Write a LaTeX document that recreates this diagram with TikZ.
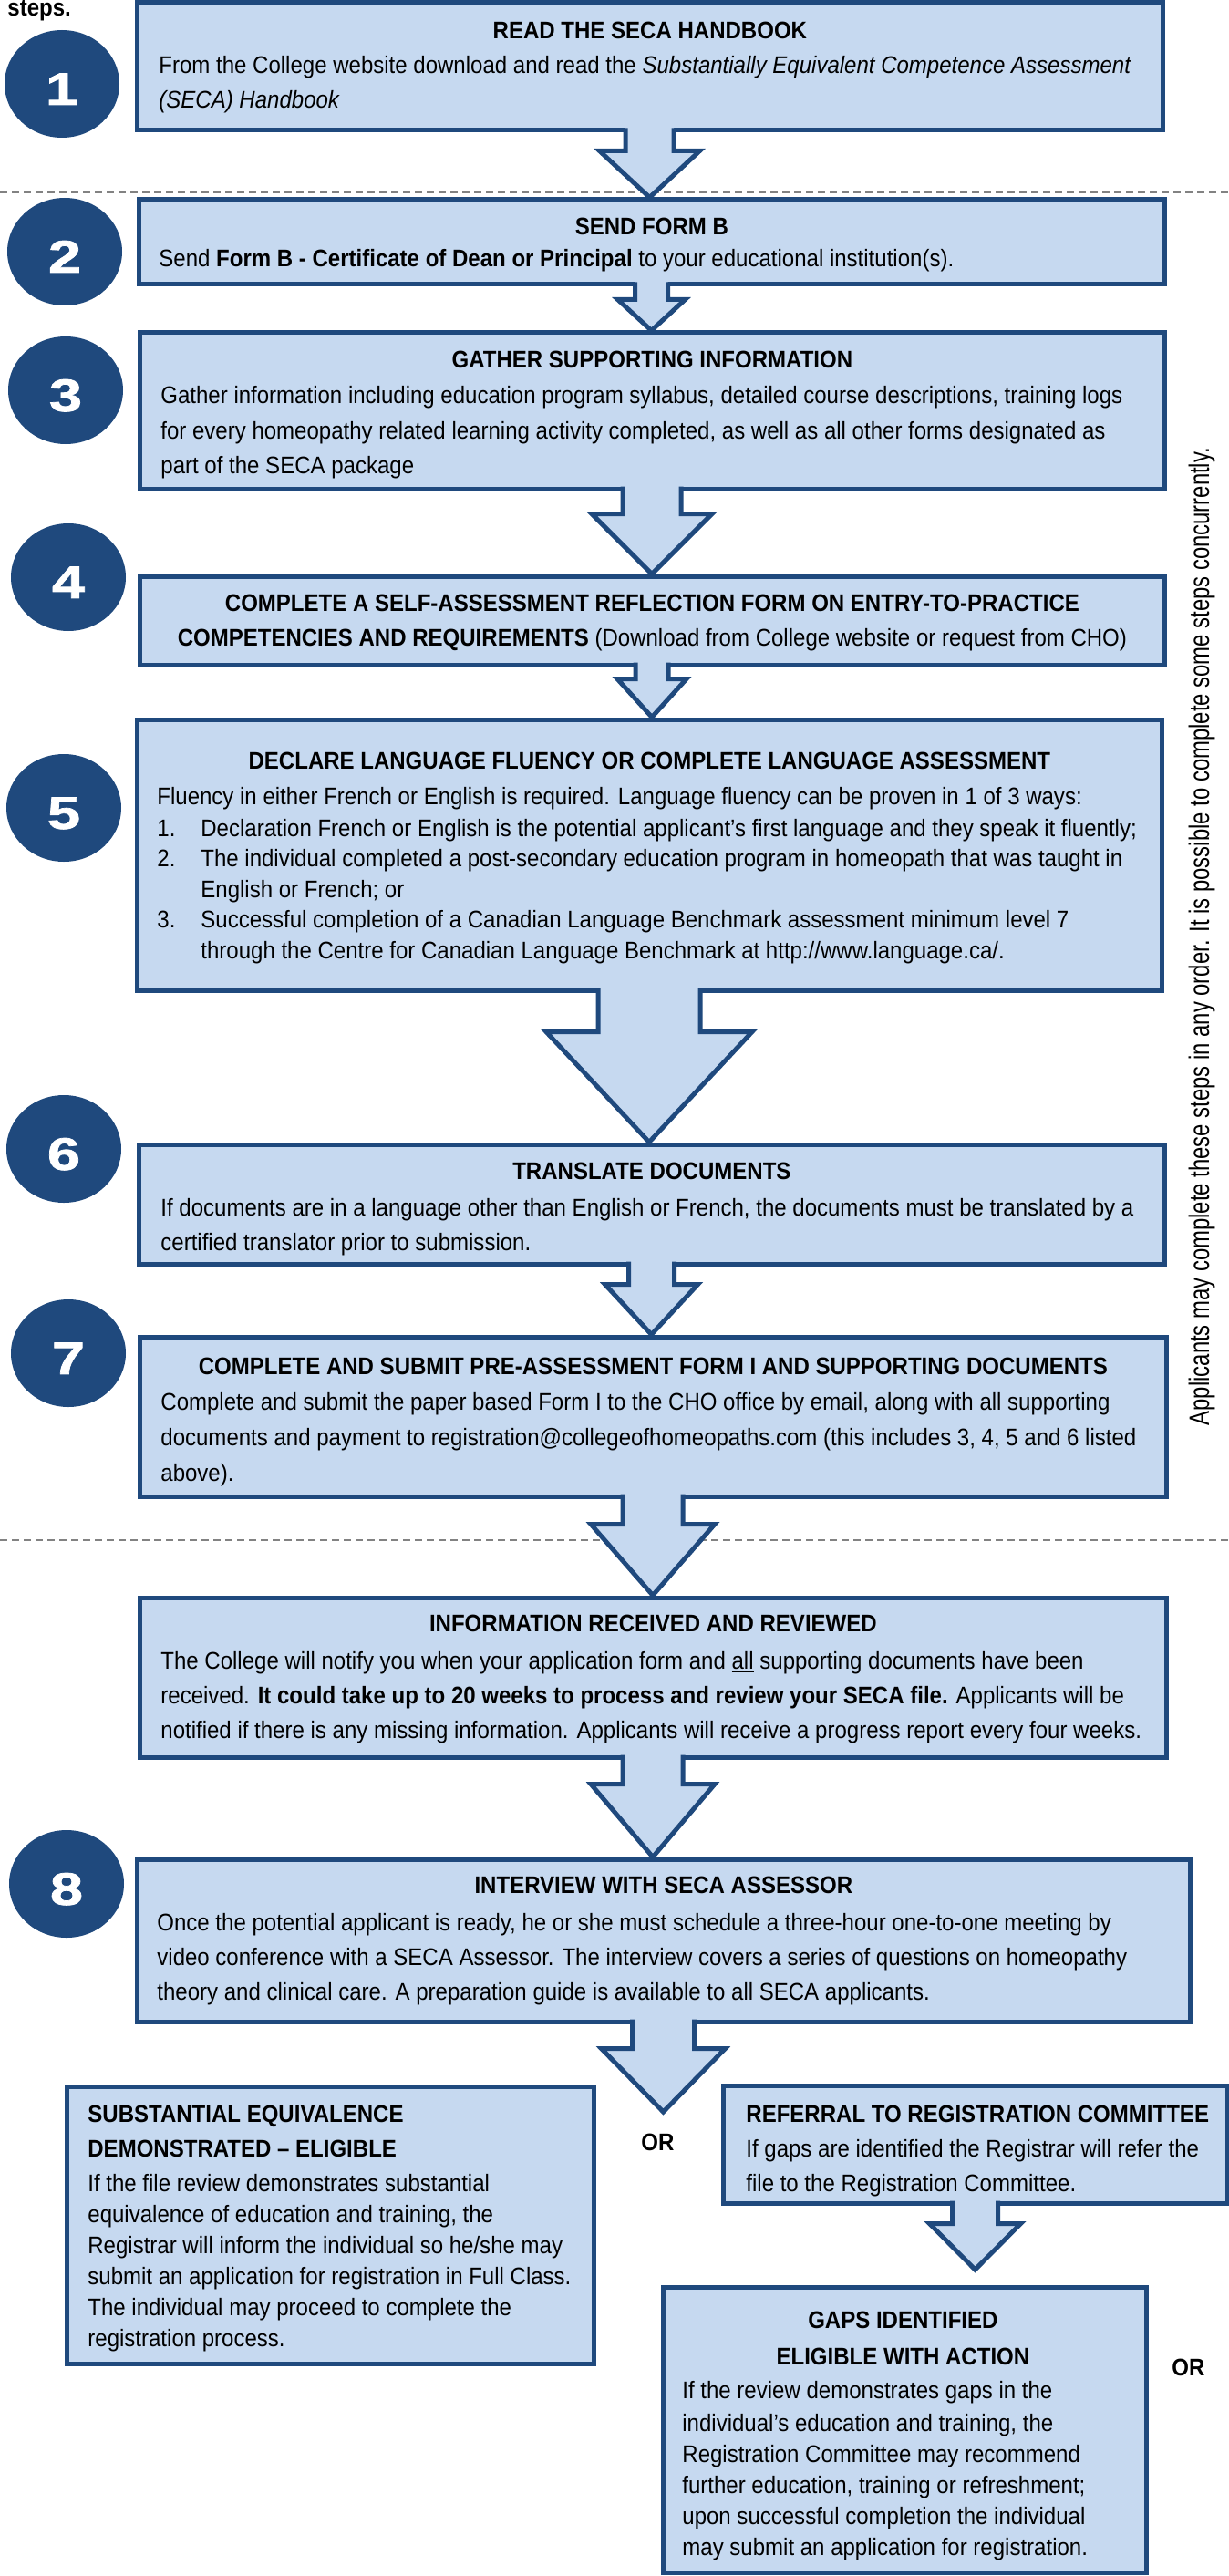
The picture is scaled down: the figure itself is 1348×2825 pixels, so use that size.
\documentclass[tikz,border=0pt]{standalone}
\usepackage{fontspec}
\setmainfont{Liberation Sans}[FakeStretch=0.91]
\newfontfamily\numfont{Liberation Sans}[FakeStretch=1.3,BoldFeatures={FakeBold=1.5}]
\newfontfamily\vfont{Liberation Sans}[FakeStretch=0.77]
\usetikzlibrary{calc,fit,shapes.geometric}
\definecolor{boxc}{RGB}{198,217,240}
\definecolor{navy}{RGB}{31,73,125}
\definecolor{sepgray}{RGB}{130,130,130}
\tikzset{
  box/.style={draw=navy, fill=boxc, line width=2.5pt, inner sep=0pt, rectangle},
  num/.style={ellipse, fill=navy, minimum width=63pt, minimum height=59pt, inner sep=0pt,
    text=white, font=\numfont\bfseries\fontsize{25pt}{25pt}\selectfont},
  txt/.style={inner sep=0pt, anchor=base west, font=\fontsize{13.2pt}{19pt}\selectfont},
  ortxt/.style={inner sep=0pt, anchor=base west, font=\bfseries\fontsize{13.2pt}{19pt}\selectfont},
  arrowline/.style={draw=navy, line width=2.5pt, line join=miter},
  sepline/.style={draw=sepgray, line width=1pt, dash pattern=on 4pt off 2.5pt},
}
\newcommand\dig[1]{\raisebox{-2.5pt}[17.9pt][0pt]{#1}}
% #1 from node, #2 tip point, #3 stem half width, #4 head half width, #5 stem length
\newcommand\blockarrow[5]{%
  \fill[boxc] ($(#1.south)+(-#3,-7)$) -- ($(#1.south)+(-#3,#5)$) -- ($(#1.south)+(-#4,#5)$)
    -- (#1.south |- #2) -- ($(#1.south)+(#4,#5)$) -- ($(#1.south)+(#3,#5)$) -- ($(#1.south)+(#3,-7)$) -- cycle;
  \draw[arrowline] ($(#1.south)+(-#3,-5)$) -- ($(#1.south)+(-#3,#5)$) -- ($(#1.south)+(-#4,#5)$)
    -- (#1.south |- #2) -- ($(#1.south)+(#4,#5)$) -- ($(#1.south)+(#3,#5)$) -- ($(#1.south)+(#3,-5)$);
}
\begin{document}
\begin{tikzpicture}[x=0.5pt,y=-0.5pt]
\useasboundingbox (0,0) rectangle (1348,2825);

% separators
\draw[sepline] (0,211) -- (1348,211);
\draw[sepline] (0,1689) -- (1348,1689);

\node[ortxt] (st) at (8,18) {steps.};

% boxes
\node[box, fit={(150,3) (1275,143)}] (b1) {};
\node[box, fit={(152,219) (1277,312)}] (b2) {};
\node[box, fit={(153,365) (1277,536)}] (b3) {};
\node[box, fit={(153,632) (1277,729)}] (b4) {};
\node[box, fit={(150,789) (1274,1086)}] (b5) {};
\node[box, fit={(152,1255) (1277,1386)}] (b6) {};
\node[box, fit={(153,1466) (1279,1641)}] (b7) {};
\node[box, fit={(153,1752) (1279,1927)}] (bir) {};
\node[box, fit={(150,2039) (1305,2217)}] (b8) {};
\node[box, fit={(73,2288) (651,2592)}] (bse) {};
\node[box, fit={(793,2287) (1346,2416)}] (bref) {};
\node[box, fit={(727,2508) (1257,2821)}] (bgap) {};

% circles
\node[num] (n1) at (68,92) {\dig{1}};
\node[num] (n2) at (71,276) {\dig{2}};
\node[num] (n3) at (72,428) {\dig{3}};
\node[num] (n4) at (75,633) {\dig{4}};
\node[num] (n5) at (70,886) {\dig{5}};
\node[num] (n6) at (70,1260) {\dig{6}};
\node[num] (n7) at (75,1484) {\dig{7}};
\node[num] (n8) at (73,2066) {\dig{8}};

% texts
\node[txt] (t1) at (174,43) {\parbox[t]{538.5pt}{{\centering\bfseries READ THE SECA HANDBOOK\par}\raggedright
\mbox{From the College website download and read the \textit{Substantially Equivalent Competence Assessment}}\\
\mbox{\textit{(SECA) Handbook}}}};

\node[txt] (t2) at (174,258) {\parbox[t]{540.5pt}{\fontsize{13.2pt}{17.5pt}\selectfont{\centering\bfseries SEND FORM B\par}\raggedright
\mbox{Send \textbf{Form B - Certificate of Dean or Principal} to your educational institution(s).}}};

\node[txt] (t3) at (176,403) {\parbox[t]{539pt}{{\centering\bfseries GATHER SUPPORTING INFORMATION\par}\vspace{1pt}\raggedright
\mbox{Gather information including education program syllabus, detailed course descriptions, training logs}\\
\mbox{for every homeopathy related learning activity completed, as well as all other forms designated as}\\
\mbox{part of the SECA package}}};

\node[txt] (t4) at (176,670) {\parbox[t]{539pt}{\centering
\mbox{\bfseries COMPLETE A SELF-ASSESSMENT REFLECTION FORM ON ENTRY-TO-PRACTICE}\\
\mbox{\textbf{COMPETENCIES AND REQUIREMENTS} (Download from College website or request from CHO)}}};

\node[txt] (t5) at (172,843) {\parbox[t]{540pt}{{\centering\bfseries DECLARE LANGUAGE FLUENCY OR COMPLETE LANGUAGE ASSESSMENT\par}\vspace{2.75pt}\fontsize{13.2pt}{16.75pt}\selectfont\raggedright
\mbox{Fluency in either French or English is required. Language fluency can be proven in 1 of 3 ways:}\\[0.75pt]
\mbox{\makebox[24pt][l]{1.}Declaration French or English is the potential applicant’s first language and they speak it fluently;}\\
\mbox{\makebox[24pt][l]{2.}The individual completed a post-secondary education program in homeopath that was taught in}\\
\mbox{\hspace*{24pt}English or French; or}\\
\mbox{\makebox[24pt][l]{3.}Successful completion of a Canadian Language Benchmark assessment minimum level 7}\\
\mbox{\hspace*{24pt}through the Centre for Canadian Language Benchmark at http://www.language.ca/.}}};

\node[txt] (t6) at (176,1293) {\parbox[t]{538.5pt}{{\centering\bfseries TRANSLATE DOCUMENTS\par}\vspace{1pt}\raggedright
\mbox{If documents are in a language other than English or French, the documents must be translated by a}\\
\mbox{certified translator prior to submission.}}};

\node[txt] (t7) at (176,1507) {\parbox[t]{540pt}{\fontsize{13.2pt}{19.5pt}\selectfont{\centering\bfseries COMPLETE AND SUBMIT PRE-ASSESSMENT FORM I AND SUPPORTING DOCUMENTS\par}\raggedright
\mbox{Complete and submit the paper based Form I to the CHO office by email, along with all supporting}\\
\mbox{documents and payment to registration@collegeofhomeopaths.com (this includes 3, 4, 5 and 6 listed}\\
\mbox{above).}}};

\node[txt] (tir) at (176,1789) {\parbox[t]{540pt}{{\centering\bfseries INFORMATION RECEIVED AND REVIEWED\par}\vspace{1.5pt}\raggedright
\mbox{The College will notify you when your application form and \underline{all} supporting documents have been}\\
\mbox{received. \textbf{It could take up to 20 weeks to process and review your SECA file.} Applicants will be}\\
\mbox{notified if there is any missing information. Applicants will receive a progress report every four weeks.}}};

\node[txt] (t8) at (172,2076) {\parbox[t]{555.5pt}{{\centering\bfseries INTERVIEW WITH SECA ASSESSOR\par}\vspace{1.5pt}\raggedright
\mbox{Once the potential applicant is ready, he or she must schedule a three-hour one-to-one meeting by}\\
\mbox{video conference with a SECA Assessor. The interview covers a series of questions on homeopathy}\\
\mbox{theory and clinical care. A preparation guide is available to all SECA applicants.}}};

\node[txt] (tse) at (96,2327) {\parbox[t]{280pt}{{\raggedright\bfseries SUBSTANTIAL EQUIVALENCE\\DEMONSTRATED – ELIGIBLE\par}\vspace{2pt}\fontsize{13.2pt}{17pt}\selectfont\raggedright
\mbox{If the file review demonstrates substantial}\\
\mbox{equivalence of education and training, the}\\
\mbox{Registrar will inform the individual so he/she may}\\
\mbox{submit an application for registration in Full Class.}\\
\mbox{The individual may proceed to complete the}\\
\mbox{registration process.}}};

\node[txt] (tref) at (818,2327) {\parbox[t]{262pt}{{\raggedright\bfseries REFERRAL TO REGISTRATION COMMITTEE\par}\raggedright
\mbox{If gaps are identified the Registrar will refer the}\\
\mbox{file to the Registration Committee.}}};

\node[txt] (tgap) at (748,2553) {\parbox[t]{242pt}{{\centering\bfseries GAPS IDENTIFIED\\[1pt]ELIGIBLE WITH ACTION\par}\vspace{1.5pt}\fontsize{13.2pt}{17pt}\selectfont\raggedright
\mbox{If the review demonstrates gaps in the}\\[1pt]
\mbox{individual’s education and training, the}\\
\mbox{Registration Committee may recommend}\\
\mbox{further education, training or refreshment;}\\
\mbox{upon successful completion the individual}\\
\mbox{may submit an application for registration.}}};

\node[ortxt] (or1) at (703,2358) {OR};
\node[ortxt] (or2) at (1285,2605) {OR};

\node[rotate=90, inner sep=0pt, font=\vfont\fontsize{15.5pt}{15.5pt}\selectfont] (vt) at (1318,1027)
  {Applicants may complete these steps in any order.  It is possible to complete some steps concurrently.};

% arrows
\coordinate (e9) at (727,2316);
\coordinate (e10) at (1075,2489);
\blockarrow{b1}{b2.north}{26.5}{55}{20}
\blockarrow{b2}{b3.north}{18}{37}{14}
\blockarrow{b3}{b4.north}{32}{66}{25}
\blockarrow{b4}{b5.north}{18}{38}{13}
\blockarrow{b5}{b6.north}{56}{113}{43}
\blockarrow{b6}{b7.north}{25}{51}{20}
\blockarrow{b7}{bir.north}{33}{68}{28}
\blockarrow{bir}{b8.north}{33}{68}{27}
\blockarrow{b8}{e9}{34}{68}{27}
\blockarrow{bref}{e10}{25}{50}{20}
\end{tikzpicture}
\end{document}
